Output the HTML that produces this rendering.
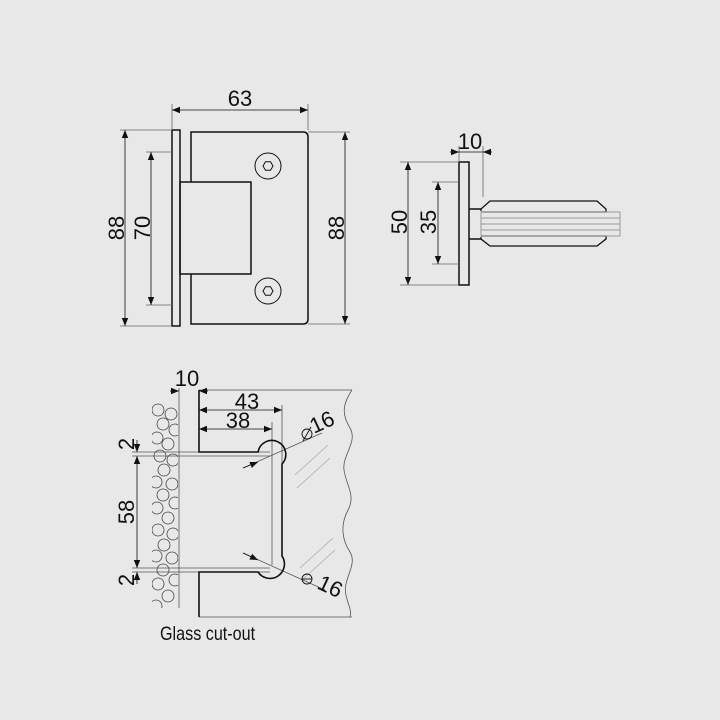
<!DOCTYPE html>
<html><head><meta charset="utf-8"><style>
html,body{margin:0;padding:0;background:#e8e8e8}
svg{display:block}
text{font-family:"Liberation Sans",sans-serif;fill:#111}
</style></head><body>
<svg width="720" height="720" viewBox="0 0 720 720" xmlns="http://www.w3.org/2000/svg">
<defs>
<marker id="a" viewBox="0 0 10 10" refX="10" refY="5" markerWidth="8" markerHeight="8" orient="auto-start-reverse" markerUnits="userSpaceOnUse"><path d="M0,1 L10,5 L0,9 z" fill="#111"/></marker>
<clipPath id="hc"><rect x="152" y="403" width="26" height="205"/></clipPath>
</defs>
<rect width="720" height="720" fill="#e8e8e8"/>
<g fill="none" stroke="#111" stroke-width="1.5">
<rect x="172" y="130" width="8" height="196"/>
<path d="M191,182 V132 H303 Q308,132 308,137 V319 Q308,324 303,324 H191 V274"/>
<rect x="180" y="182" width="71" height="92"/>
<circle cx="268" cy="166" r="13" stroke-width="1"/>
<circle cx="268" cy="291" r="13" stroke-width="1"/>
<polygon points="273,166 270.5,170.3 265.5,170.3 263,166 265.5,161.7 270.5,161.7" stroke-width="1"/>
<polygon points="273,291 270.5,295.3 265.5,295.3 263,291 265.5,286.7 270.5,286.7" stroke-width="1"/>
<rect x="459" y="162" width="10" height="123"/>
<path d="M469,209 H481 M469,239 H481"/>
<path d="M481,211 V209 L490,201 H597 L606,209 V212 H481" stroke-width="1.3"/>
<path d="M481,237 V239 L490,246 H597 L606,239 V236 H481" stroke-width="1.3"/>
</g>
<g fill="none" stroke="#999" stroke-width="1">
<rect x="481" y="212" width="139" height="24"/>
<path d="M481,218 H620 M481,224 H620 M481,230 H620"/>
</g>
<g stroke="#666" stroke-width="0.8" fill="none">
<path d="M172,104 V130 M308,104 V130"/>
<path d="M120,130 H172 M120,326 H172 M146,152 H172 M146,305 H172"/>
<path d="M308,132 H350 M308,324 H350"/>
<path d="M400,162 H459 M400,285 H459 M432,182 H459 M432,264 H459"/>
<path d="M459,146 V162 M483,146 V197"/>
</g>
<g stroke="#111" stroke-width="0.8" fill="none" marker-start="url(#a)" marker-end="url(#a)">
<line x1="172" y1="110" x2="308" y2="110"/>
<line x1="125" y1="130" x2="125" y2="326"/>
<line x1="151" y1="152" x2="151" y2="305"/>
<line x1="345" y1="132" x2="345" y2="324"/>
<line x1="408" y1="162" x2="408" y2="285"/>
<line x1="438" y1="182" x2="438" y2="264"/>
</g>
<g stroke="#111" stroke-width="0.8" marker-end="url(#a)">
<line x1="450" y1="152" x2="459" y2="152"/>
<line x1="492" y1="152" x2="483" y2="152"/>
</g>
<line x1="459" y1="152" x2="483" y2="152" stroke="#111" stroke-width="0.8"/>
<g font-size="22">
<text x="240" y="106" text-anchor="middle">63</text>
<text transform="translate(124,228) rotate(-90)" text-anchor="middle">88</text>
<text transform="translate(150,228) rotate(-90)" text-anchor="middle">70</text>
<text transform="translate(344,228) rotate(-90)" text-anchor="middle">88</text>
<text x="470" y="149" text-anchor="middle">10</text>
<text transform="translate(407,222) rotate(-90)" text-anchor="middle">50</text>
<text transform="translate(436,222) rotate(-90)" text-anchor="middle">35</text>
</g>
<g stroke="#555" stroke-width="0.8" fill="none">
<path d="M179,388 V608"/>
<path d="M199,390 H352"/>
<path d="M199,617 H352"/>
<path d="M352,390 C342,405 342,415 350,428 C358,442 342,455 344,470 C346,485 356,495 348,510 C340,525 342,540 350,552 C358,565 342,580 346,595 C348,605 352,610 350,617"/>
<path d="M282,405 V470 M272,422 V565"/>
<path d="M132,452 H270 M132,456 H270 M132,568 H270 M132,572 H270"/>
<path d="M243,468 L322,433 M243,553 L325,590"/>
<path d="M295,475 L328,445 M297,488 L330,458 M300,568 L333,538 M302,580 L335,550" stroke="#aaa"/>
</g>
<g stroke="#444" stroke-width="0.8" fill="none" clip-path="url(#hc)">
<circle cx="158" cy="410" r="6"/><circle cx="171" cy="414" r="6"/>
<circle cx="163" cy="424" r="6"/><circle cx="175" cy="430" r="6"/>
<circle cx="157" cy="438" r="6"/><circle cx="168" cy="444" r="6"/>
<circle cx="160" cy="456" r="6"/><circle cx="173" cy="460" r="6"/>
<circle cx="164" cy="470" r="6"/><circle cx="156" cy="482" r="6"/>
<circle cx="172" cy="484" r="6"/><circle cx="163" cy="495" r="6"/>
<circle cx="175" cy="503" r="6"/><circle cx="157" cy="508" r="6"/>
<circle cx="168" cy="518" r="6"/><circle cx="158" cy="530" r="6"/>
<circle cx="173" cy="534" r="6"/><circle cx="164" cy="545" r="6"/>
<circle cx="156" cy="556" r="6"/><circle cx="172" cy="558" r="6"/>
<circle cx="163" cy="570" r="6"/><circle cx="175" cy="580" r="6"/>
<circle cx="158" cy="584" r="6"/><circle cx="168" cy="596" r="6"/>
<circle cx="156" cy="606" r="6"/>
</g>
<g fill="none" stroke="#111" stroke-width="1.6">
<path d="M199,390 V452 H258 A14,14 0 1 1 282,464 V556 A13,13 0 1 1 258,572 H199 V617"/>
</g>
<g stroke="#111" stroke-width="0.8" marker-start="url(#a)" marker-end="url(#a)">
<line x1="199" y1="410" x2="282" y2="410"/>
<line x1="199" y1="429" x2="272" y2="429"/>
<line x1="137" y1="456" x2="137" y2="568"/>
</g>
<g stroke="#111" stroke-width="0.8" marker-end="url(#a)">
<line x1="170" y1="391" x2="179" y2="391"/>
<line x1="208" y1="391" x2="199" y2="391"/>
<line x1="137" y1="440" x2="137" y2="452"/>
<line x1="137" y1="584" x2="137" y2="572"/>
<line x1="243" y1="468" x2="258" y2="462"/>
<line x1="243" y1="553" x2="258" y2="560"/>
</g>
<g font-size="22">
<text x="187" y="386" text-anchor="middle">10</text>
<text x="247" y="409" text-anchor="middle">43</text>
<text x="238" y="428" text-anchor="middle">38</text>
<text transform="translate(134,444) rotate(-90)" text-anchor="middle">2</text>
<text transform="translate(134,512) rotate(-90)" text-anchor="middle">58</text>
<text transform="translate(134,580) rotate(-90)" text-anchor="middle">2</text>
<text transform="translate(314,434) rotate(-25)">16</text>
<text transform="translate(316,588) rotate(25)">16</text>
<text transform="translate(160,640) scale(0.85,1)" font-size="19">Glass cut-out</text>
</g>
<g fill="none" stroke="#111" stroke-width="0.9">
<circle cx="307" cy="434" r="5"/><line x1="303" y1="441" x2="311" y2="427"/>
<circle cx="307" cy="579" r="5"/><line x1="302" y1="579" x2="312" y2="579"/>
</g>
</svg>
</body></html>
